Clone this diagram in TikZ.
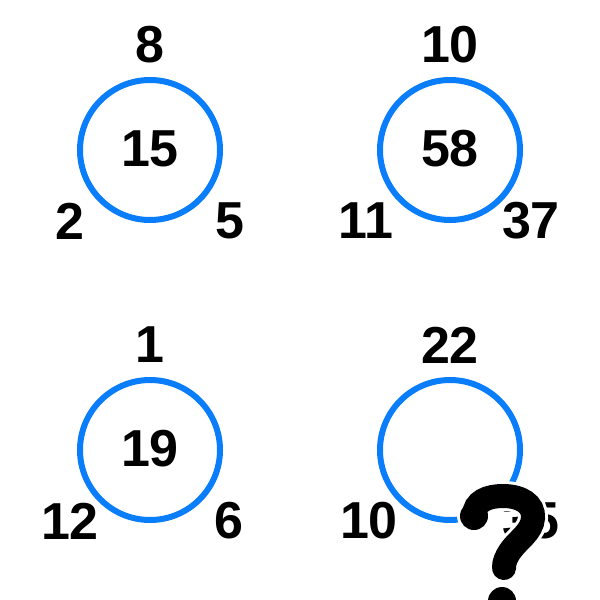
\documentclass[tikz,border=0pt]{standalone}
\usepackage{fontspec}
\setmainfont{Liberation Sans}
\definecolor{ringblue}{RGB}{10,125,250}
\begin{document}
\begin{tikzpicture}[x=1pt,y=-1pt,
  ring/.style={circle,draw=ringblue,line width=6pt,minimum size=140pt,inner sep=0pt},
  num/.style={inner sep=0pt,font=\fontsize{52}{56}\selectfont\bfseries},
  qhalo/.style={draw=white,line width=30pt,line cap=round},
  qline/.style={draw=black,line width=24pt,line cap=round}]
\useasboundingbox[fill=white] (0,0) rectangle (600,600);
% top-left
\node[ring] (c1) at (150,150) {};
\node[num] (m1) at (150,149) {15};
\node[num] (t1) at (150,45) {8};
\node[num] (l1) at (70,221) {2};
\node[num] (r1) at (230,221) {5};
% top-right
\node[ring] (c2) at (450,150) {};
\node[num] (m2) at (450,149) {58};
\node[num] (t2) at (450,45) {10};
\node[num] (l2) at (366,221) {11};
\node[num] (r2) at (531,221) {37};
% bottom-left
\node[ring] (c3) at (150,450) {};
\node[num] (m3) at (150,449) {19};
\node[num] (t3) at (150,345) {1};
\node[num] (l3) at (70,521) {12};
\node[num] (r3) at (229,521) {6};
% bottom-right
\node[ring] (c4) at (450,450) {};
\node[num] (t4) at (450,345) {22};
\node[num] (l4) at (369,521) {10};
\node[num] (r4) at (531,521) {35};
% question mark drawn as a thick stroke with a white halo
\coordinate (qa) at (474,516);
\coordinate (qb) at (503,496);
\coordinate (qc) at (533,518);
\coordinate (qd) at (511,550);
\coordinate (qe) at (504,568);
\coordinate (qdot) at (502,601);
\path[qhalo] (qa) .. controls (474,501) and (488,496) .. (qb) .. controls (521,496) and (534,504) .. (qc) .. controls (532,532) and (518,540) .. (qd) .. controls (506,557) and (504,562) .. (qe);
\fill[white] (qa) circle (17);
\fill[white] (qdot) circle (17);
\path[qline] (qa) .. controls (474,501) and (488,496) .. (qb) .. controls (521,496) and (534,504) .. (qc) .. controls (532,532) and (518,540) .. (qd) .. controls (506,557) and (504,562) .. (qe);
\fill[black] (qa) circle (14);
\fill[black] (qdot) circle (14);
\end{tikzpicture}
\end{document}
